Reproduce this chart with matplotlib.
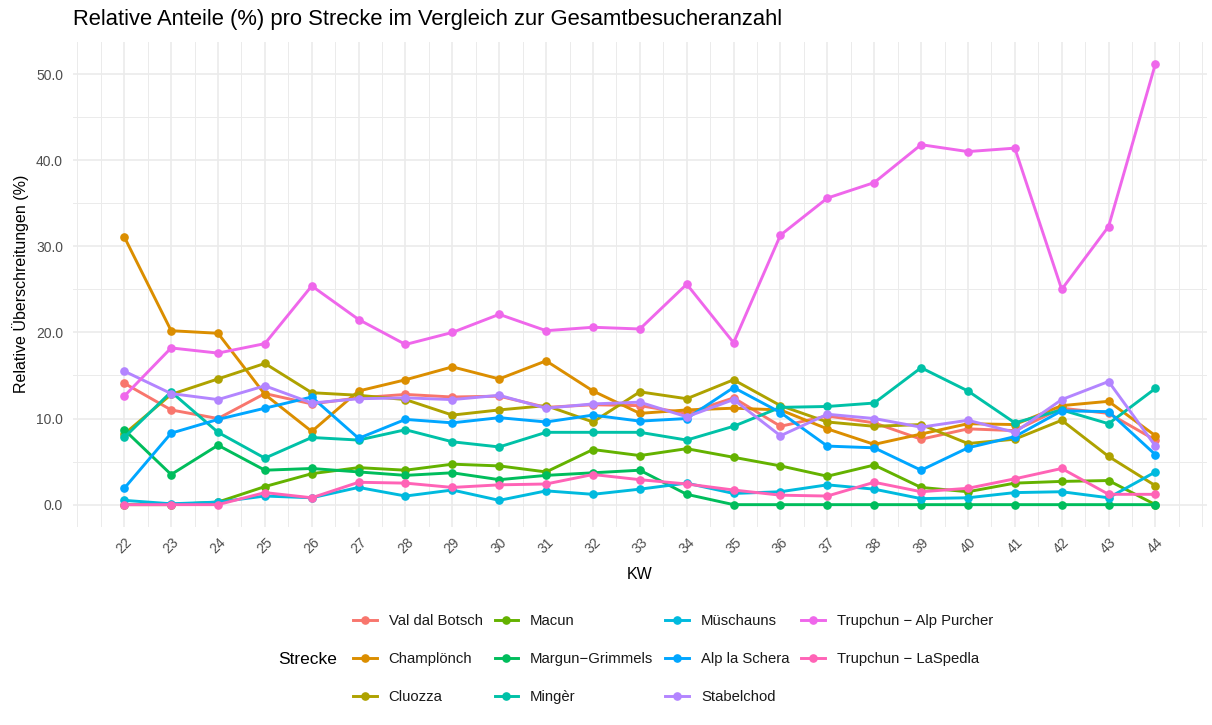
import matplotlib
matplotlib.use("Agg")
import matplotlib.pyplot as plt
from matplotlib.lines import Line2D
from matplotlib.ticker import FormatStrFormatter, MultipleLocator, FixedLocator
import numpy as np

plt.rcParams['font.family'] = ['Liberation Sans', 'DejaVu Sans']

kw = list(range(22, 45))

strecken = ["Val dal Botsch", "Champlönch", "Cluozza", "Macun", "Margun\u2212Grimmels",
            "Mingèr", "Müschauns", "Alp la Schera", "Stabelchod",
            "Trupchun \u2212 Alp Purcher", "Trupchun \u2212 LaSpedla"]

farben = ["#F8766D", "#DB8E00", "#AEA200", "#64B200", "#00BD5C", "#00C1A7",
          "#00BADE", "#00A6FF", "#B385FF", "#EF67EB", "#FF63B6"]

val_dal_botsch = [14.1, 11.0, 10.0, 12.9, 11.7, 12.4, 12.8, 12.5, 12.6, 11.3, 11.6, 11.5,
                  10.6, 12.4, 9.1, 10.3, 9.5, 7.6, 8.8, 8.6, 11.2, 10.6, 7.5]
champlonch = [31.1, 20.2, 19.9, 12.8, 8.5, 13.2, 14.5, 16.0, 14.6, 16.7, 13.2, 10.6,
              11.0, 11.2, 11.0, 8.8, 7.0, 8.2, 9.4, 9.3, 11.5, 12.0, 8.0]
cluozza = [8.2, 12.8, 14.6, 16.4, 13.0, 12.7, 12.2, 10.4, 11.0, 11.5, 9.6, 13.1,
           12.3, 14.5, 11.5, 9.6, 9.1, 9.3, 7.1, 7.6, 9.8, 5.6, 2.2]
macun = [0.0, 0.0, 0.3, 2.1, 3.6, 4.3, 4.0, 4.7, 4.5, 3.8, 6.4, 5.7,
         6.5, 5.5, 4.5, 3.3, 4.6, 2.0, 1.5, 2.5, 2.7, 2.8, 0.0]
margun_grimmels = [8.7, 3.5, 6.9, 4.0, 4.2, 3.8, 3.4, 3.7, 2.9, 3.4, 3.7, 4.0,
                   1.2, 0.0, 0.0, 0.0, 0.0, 0.0, 0.0, 0.0, 0.0, 0.0, 0.0]
minger = [7.8, 13.1, 8.4, 5.4, 7.8, 7.5, 8.7, 7.3, 6.7, 8.4, 8.4, 8.4,
          7.5, 9.1, 11.3, 11.4, 11.8, 15.9, 13.2, 9.5, 11.0, 9.4, 13.5]
muschauns = [0.5, 0.1, 0.3, 1.0, 0.8, 2.0, 1.0, 1.7, 0.5, 1.6, 1.2, 1.8,
             2.5, 1.3, 1.5, 2.3, 1.8, 0.7, 0.8, 1.4, 1.5, 0.8, 3.8]
alp_la_schera = [1.9, 8.3, 9.9, 11.2, 12.5, 7.7, 9.9, 9.5, 10.1, 9.6, 10.4, 9.7,
                 10.0, 13.6, 10.7, 6.8, 6.6, 4.0, 6.6, 7.9, 10.9, 10.8, 5.8]
stabelchod = [15.5, 12.9, 12.2, 13.8, 11.8, 12.3, 12.4, 12.2, 12.7, 11.2, 11.7, 11.9,
              10.2, 12.2, 8.0, 10.5, 10.0, 9.0, 9.8, 8.4, 12.2, 14.3, 6.8]
alp_purcher = [12.6, 18.2, 17.6, 18.7, 25.4, 21.5, 18.6, 20.0, 22.1, 20.2, 20.6, 20.4,
               25.6, 18.8, 31.3, 35.6, 37.4, 41.8, 41.0, 41.4, 25.0, 32.3, 51.2]
laspedla = [0.0, 0.0, 0.0, 1.4, 0.8, 2.6, 2.5, 2.0, 2.3, 2.4, 3.5, 2.9,
            2.4, 1.7, 1.1, 1.0, 2.6, 1.5, 1.9, 3.0, 4.2, 1.2, 1.2]

werte = [val_dal_botsch, champlonch, cluozza, macun, margun_grimmels, minger,
         muschauns, alp_la_schera, stabelchod, alp_purcher, laspedla]

W, H = 1212, 725
fig = plt.figure(figsize=(W / 100, H / 100), dpi=100)
fig.patch.set_facecolor("white")
ax = fig.add_axes([72.7 / W, 1 - 526.7 / H, (1207 - 72.7) / W, (526.7 - 41.7) / H])
ax.set_facecolor("white")

for name, vals, col in zip(strecken, werte, farben):
    ax.plot(kw, vals, color=col, lw=2.1, marker="o", ms=5.2, solid_capstyle="round",
            solid_joinstyle="round", zorder=3)

ymax = max(max(v) for v in werte)
ymin = 0.0
pad = 0.05 * (ymax - ymin)
ax.set_ylim(ymin - pad, ymax + pad)
xpad = 0.05 * (kw[-1] - kw[0])
ax.set_xlim(kw[0] - xpad, kw[-1] + xpad)

ax.xaxis.set_major_locator(FixedLocator(kw))
ax.xaxis.set_minor_locator(FixedLocator([k - 0.5 for k in kw] + [kw[0] - 1, kw[-1] + 0.5, kw[-1] + 1]))
ax.yaxis.set_major_locator(MultipleLocator(10))
ax.yaxis.set_minor_locator(MultipleLocator(5))
ax.yaxis.set_major_formatter(FormatStrFormatter("%.1f"))

ax.grid(which="major", color="#EBEBEB", lw=1.2, zorder=0)
ax.grid(which="minor", color="#EBEBEB", lw=0.7, zorder=0)
ax.set_axisbelow(True)
for s in ax.spines.values():
    s.set_visible(False)
ax.tick_params(which="both", length=0)
ax.tick_params(axis="y", labelsize=10, labelcolor="#4D4D4D", pad=7)
ax.tick_params(axis="x", labelsize=10, labelcolor="#4D4D4D", pad=6, labelrotation=45)

ax.set_xlabel("KW", fontsize=11.5, color="black", labelpad=8)
ax.set_ylabel("Relative Überschreitungen (%)", fontsize=11.5, color="black", labelpad=5)

fig.text(72.7 / W, 1 - 20 / H, "Relative Anteile (%) pro Strecke im Vergleich zur Gesamtbesucheranzahl",
         fontsize=15.8, ha="left", va="center", color="black")

handles = [Line2D([0], [0], color=c, lw=2.1, marker="o", ms=5.2) for c in farben]
leg = fig.legend(handles, strecken, ncol=4, loc="center left",
                 bbox_to_anchor=(353 / W, 1 - 659 / H), frameon=False,
                 fontsize=10.7, handlelength=1.6, handletextpad=0.8,
                 columnspacing=0.8, labelspacing=1.62, borderpad=0, borderaxespad=0)
for t in leg.get_texts():
    t.set_color("#1A1A1A")
fig.text(278 / W, 1 - 659 / H, "Strecke", fontsize=12.5, ha="left", va="center", color="black")

fig.savefig("out.png", dpi=100, facecolor="white")
